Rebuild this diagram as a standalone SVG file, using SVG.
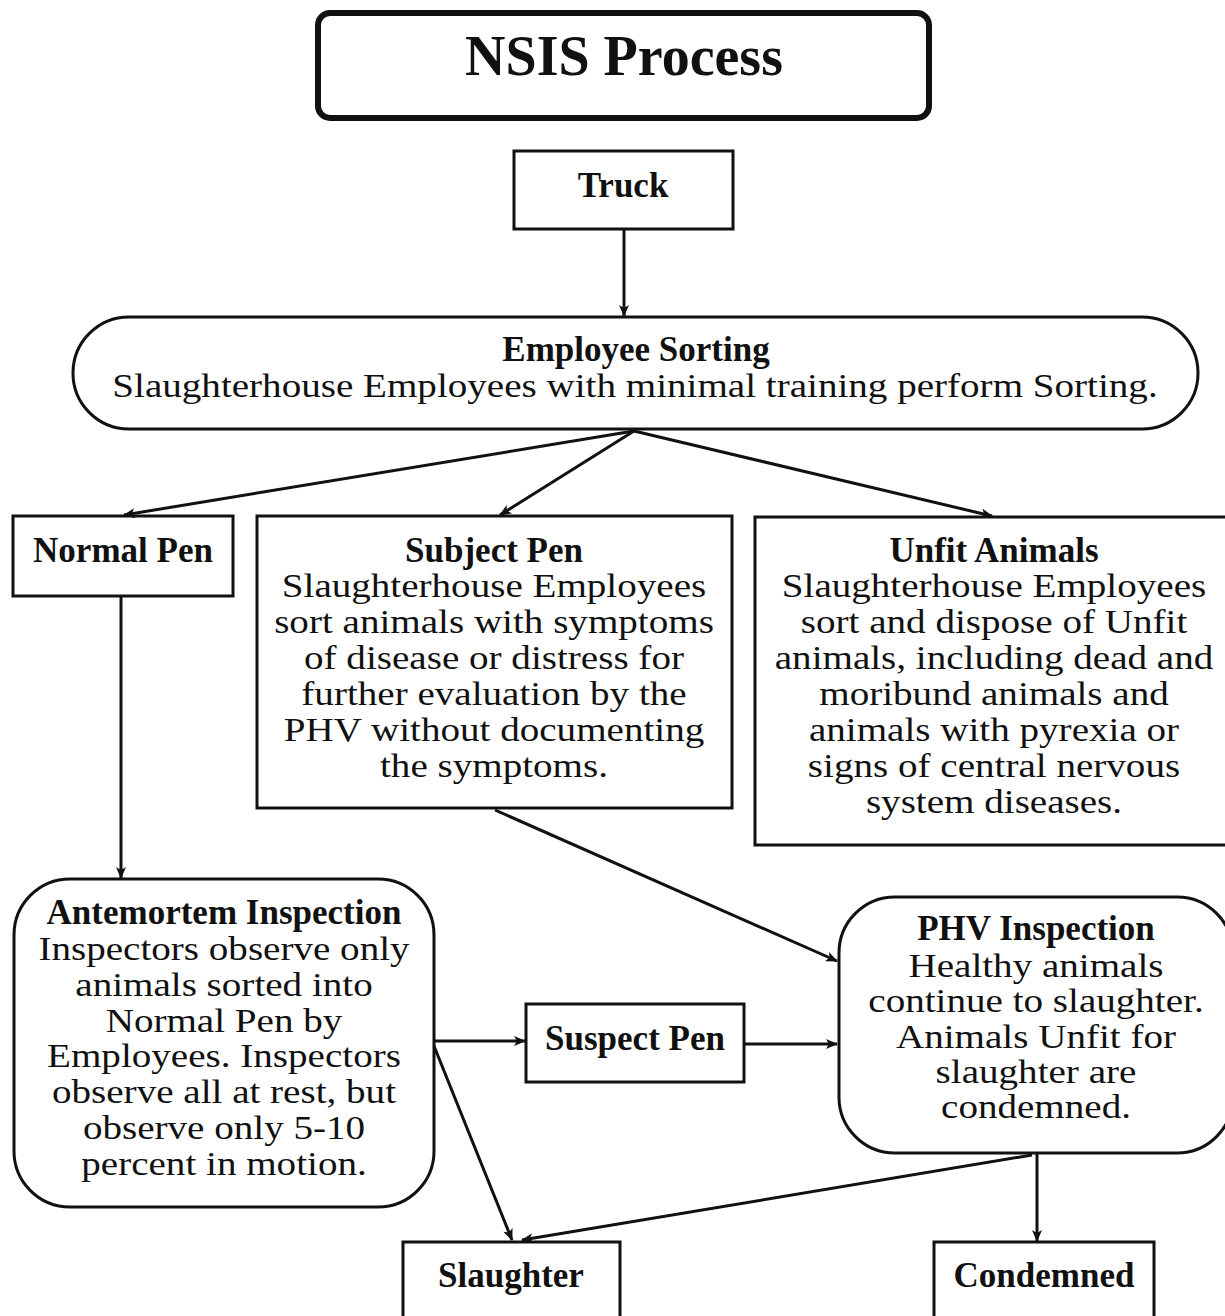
<svg xmlns="http://www.w3.org/2000/svg" width="1225" height="1316" viewBox="0 0 1225 1316">
<style>
.box{fill:#fff;stroke:#111;stroke-width:3}
.t{font-family:"Liberation Serif","Times New Roman",serif;fill:#111;text-anchor:middle}
.b{font-weight:bold;font-size:35px}
.r{font-size:34px}
.c{stroke:#111;stroke-width:3;fill:none;marker-end:url(#ah)}
</style>
<defs>
<marker id="ah" viewBox="0 0 12 10" refX="11" refY="5" markerWidth="13" markerHeight="10" markerUnits="userSpaceOnUse" orient="auto">
<path d="M0,0 L12,5 L0,10 L3,5 z" fill="#111"/>
</marker>
</defs>
<rect width="1225" height="1316" fill="#fff"/>
<g id="title">
<rect x="318" y="13" width="611" height="105" rx="12" fill="#fff" stroke="#111" stroke-width="6"/>
<text class="t" x="624" y="75" font-weight="bold" font-size="56">NSIS Process</text>
</g>
<g id="truck">
<rect class="box" x="514" y="151" width="219" height="78"/>
<text class="t b" x="623" y="197">Truck</text>
</g>
<g id="employee-sorting">
<rect class="box" x="73" y="317" width="1125" height="112" rx="56"/>
<text class="t b" x="636" y="361">Employee Sorting</text>
<g transform="translate(635,0) scale(1.15,1)">
<text class="t r" x="0" y="397">Slaughterhouse Employees with minimal training perform Sorting.</text>
</g>
</g>
<g id="normal-pen">
<rect class="box" x="13" y="516" width="220" height="80"/>
<text class="t b" x="123" y="562">Normal Pen</text>
</g>
<g id="subject-pen">
<rect class="box" x="257" y="516" width="475" height="292"/>
<text class="t b" x="494" y="562">Subject Pen</text>
<g transform="translate(494,0) scale(1.15,1)">
<text class="t r" x="0" y="597">Slaughterhouse Employees</text>
<text class="t r" x="0" y="633">sort animals with symptoms</text>
<text class="t r" x="0" y="669">of disease or distress for</text>
<text class="t r" x="0" y="705">further evaluation by the</text>
<text class="t r" x="0" y="741">PHV without documenting</text>
<text class="t r" x="0" y="777">the symptoms.</text>
</g>
</g>
<g id="unfit-animals">
<rect class="box" x="755" y="517" width="485" height="328"/>
<text class="t b" x="994" y="562">Unfit Animals</text>
<g transform="translate(994,0) scale(1.15,1)">
<text class="t r" x="0" y="597">Slaughterhouse Employees</text>
<text class="t r" x="0" y="633">sort and dispose of Unfit</text>
<text class="t r" x="0" y="669">animals, including dead and</text>
<text class="t r" x="0" y="705">moribund animals and</text>
<text class="t r" x="0" y="741">animals with pyrexia or</text>
<text class="t r" x="0" y="777">signs of central nervous</text>
<text class="t r" x="0" y="813">system diseases.</text>
</g>
</g>
<g id="antemortem-inspection">
<rect class="box" x="14" y="879" width="420" height="328" rx="56"/>
<text class="t b" x="224" y="924">Antemortem Inspection</text>
<g transform="translate(224,0) scale(1.15,1)">
<text class="t r" x="0" y="960">Inspectors observe only</text>
<text class="t r" x="0" y="996">animals sorted into</text>
<text class="t r" x="0" y="1032">Normal Pen by</text>
<text class="t r" x="0" y="1067">Employees. Inspectors</text>
<text class="t r" x="0" y="1103">observe all at rest, but</text>
<text class="t r" x="0" y="1139">observe only 5-10</text>
<text class="t r" x="0" y="1175">percent in motion.</text>
</g>
</g>
<g id="suspect-pen">
<rect class="box" x="526" y="1004" width="218" height="78"/>
<text class="t b" x="635" y="1050">Suspect Pen</text>
</g>
<g id="phv-inspection">
<rect class="box" x="839" y="897" width="394" height="256" rx="56"/>
<text class="t b" x="1036" y="940">PHV Inspection</text>
<g transform="translate(1036,0) scale(1.15,1)">
<text class="t r" x="0" y="977">Healthy animals</text>
<text class="t r" x="0" y="1012">continue to slaughter.</text>
<text class="t r" x="0" y="1048">Animals Unfit for</text>
<text class="t r" x="0" y="1083">slaughter are</text>
<text class="t r" x="0" y="1118">condemned.</text>
</g>
</g>
<g id="slaughter">
<rect class="box" x="403" y="1242" width="217" height="80"/>
<text class="t b" x="511" y="1287">Slaughter</text>
</g>
<g id="condemned">
<rect class="box" x="934" y="1242" width="220" height="80"/>
<text class="t b" x="1044" y="1287">Condemned</text>
</g>
<g id="connectors">
<line class="c" x1="624" y1="229" x2="624" y2="316"/>
<line class="c" x1="634" y1="431" x2="124" y2="515"/>
<line class="c" x1="634" y1="431" x2="500" y2="515"/>
<line class="c" x1="634" y1="431" x2="992" y2="516"/>
<line class="c" x1="121" y1="596" x2="121" y2="878"/>
<line class="c" x1="495" y1="810" x2="837" y2="961"/>
<line class="c" x1="434" y1="1041" x2="525" y2="1041"/>
<line class="c" x1="434" y1="1046" x2="512" y2="1240"/>
<line class="c" x1="744" y1="1044" x2="837" y2="1044"/>
<line class="c" x1="1037" y1="1153" x2="1037" y2="1241"/>
<line class="c" x1="1032" y1="1155" x2="522" y2="1240"/>
</g>
</svg>
